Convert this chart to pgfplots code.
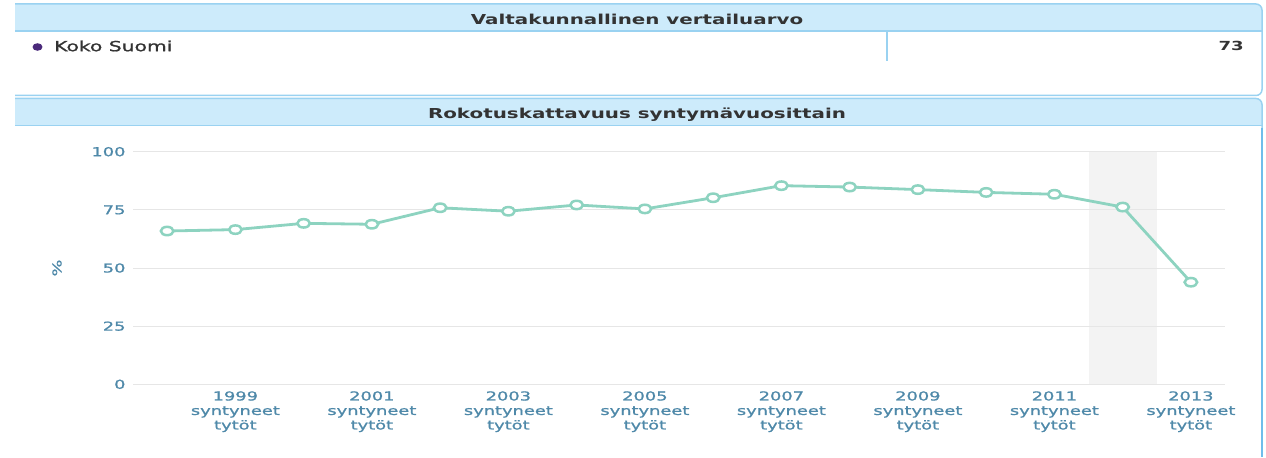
\documentclass[border=0pt]{standalone}
\usepackage{fontspec}
\setmainfont{DejaVu Sans}
\newfontfamily\wfont[FakeStretch=1.45]{DejaVu Sans}
\newfontfamily\tfont[FakeStretch=1.45, FakeBold=1.2]{DejaVu Sans}
\usepackage{pgfplots}
\pgfplotsset{compat=1.18}
\definecolor{headc}{HTML}{CDEBFB}
\definecolor{bordc}{HTML}{9AD2F1}
\definecolor{rbordc}{HTML}{6FBDEB}
\definecolor{titc}{HTML}{333333}
\definecolor{tickc}{HTML}{4F89A9}
\definecolor{linec}{HTML}{8DD3C0}
\definecolor{gridc}{HTML}{E6E6E6}
\definecolor{bandc}{HTML}{F3F3F3}
\definecolor{dotc}{HTML}{4B2A7B}
\begin{document}
\begin{tikzpicture}
\begin{scope}[x=1bp,y=-1bp]
  \path (0,0) rectangle (1266,457);
  % top panel
  \fill[headc, rounded corners=6bp] (15,31) -- (15,4) -- (1262,4) -- (1262,31) [sharp corners] -- cycle;
  \fill[headc] (15,20) rectangle (1262,31);
  \fill[headc] (15,4) rectangle (1250,20);
  \draw[bordc,line width=1.5bp, rounded corners=6bp] (15,4) -- (1262,4) -- (1262,95.5) -- (15,95.5);
  \draw[bordc,line width=1.5bp] (15,31) -- (1262,31);
  \draw[bordc,line width=1.5bp] (887,32) -- (887,61);
  \node[text=titc,font=\wfont\bfseries\fontsize{13.7bp}{16bp}\selectfont] at (637,19.5) {Valtakunnallinen vertailuarvo};
  \fill[dotc] (37.5,47) ellipse[x radius=5, y radius=3.8];
  \node[anchor=west,inner sep=0,text=titc,font=\tfont\fontsize{14bp}{16bp}\selectfont] at (54,46) {Koko Suomi};
  \node[anchor=east,inner sep=0,text=titc,font=\wfont\bfseries\fontsize{12.5bp}{14bp}\selectfont] at (1244,46) {73};
  % bottom panel
  \fill[headc, rounded corners=6bp] (15,125.5) -- (15,98.5) -- (1262,98.5) -- (1262,125.5) -- cycle;
  \fill[headc] (15,112) rectangle (1262,125.5);
  \fill[headc] (15,98.5) rectangle (1250,112);
  \draw[bordc,line width=1.5bp, rounded corners=6bp] (15,98.5) -- (1262,98.5) -- (1262,130);
  \draw[rbordc,line width=2bp] (1262,128) -- (1262,457);
  \draw[bordc,line width=1.5bp] (15,125.5) -- (1262,125.5);
  \node[text=titc,font=\wfont\bfseries\fontsize{13.7bp}{16bp}\selectfont] at (637,114.5) {Rokotuskattavuus syntymävuosittain};
\end{scope}
\begin{axis}[
  set layers,
  at={(133bp,-384.3bp)}, anchor=south west,
  scale only axis, width=1092bp, height=232.6bp,
  xmin=1997.5, xmax=2013.5, ymin=0, ymax=100,
  ytick={0,25,50,75,100},
  xtick={1999,2001,2003,2005,2007,2009,2011,2013},
  xticklabels={{1999\\syntyneet\\tytöt},{2001\\syntyneet\\tytöt},{2003\\syntyneet\\tytöt},{2005\\syntyneet\\tytöt},{2007\\syntyneet\\tytöt},{2009\\syntyneet\\tytöt},{2011\\syntyneet\\tytöt},{2013\\syntyneet\\tytöt}},
  /pgf/number format/assume math mode=true,
  ticklabel style={font=\tfont\fontsize{12.3bp}{14.5bp}\selectfont, text=tickc},
  xticklabel style={align=center, yshift=-3.5bp},
  yticklabel style={xshift=-4bp},
  major tick length=0pt,
  axis x line*=bottom, axis y line*=left,
  x axis line style={draw=gridc, line width=1bp, -},
  y axis line style={draw=none},
  ymajorgrids, grid style={draw=gridc, line width=1bp},
  ylabel={\%},
  every axis y label/.style={at={(axis description cs:-0.0696,0.5)}, anchor=center, rotate=90, font=\tfont\fontsize{12.3bp}{14bp}\selectfont, text=tickc},
]
\addplot[fill=bandc, draw=none, on layer=axis background, forget plot] coordinates {(2011.5,100) (2012.5,100)} \closedcycle;
\addplot[color=linec, line width=2.8bp, mark=*, mark size=4.2bp,
  mark options={fill=white, draw=linec, line width=2.5bp, xscale=1.5}] coordinates {
(1998,65.9) (1999,66.5) (2000,69.2) (2001,68.8) (2002,75.9) (2003,74.4)
(2004,77.1) (2005,75.4) (2006,80.2) (2007,85.4) (2008,84.8) (2009,83.7)
(2010,82.5) (2011,81.7) (2012,76.2) (2013,43.9)};
\end{axis}
\end{tikzpicture}
\end{document}
